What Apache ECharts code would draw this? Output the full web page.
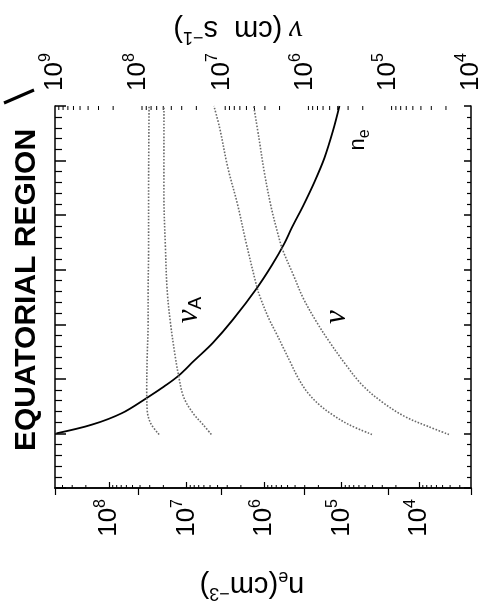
<!DOCTYPE html>
<html>
<head>
<meta charset="utf-8">
<script src="https://cdn.jsdelivr.net/npm/echarts@6/dist/echarts.min.js"></script>
<style>
  html, body { margin: 0; padding: 0; background: #ffffff; }
  #chart { width: 484px; height: 615px; }
</style>
</head>
<body>
<div id="chart"></div>
<script>
// Vertical coordinate (unlabelled axis) runs 0..7; all profiles start at 1.
const heightMin = 0;
const heightMax = 7;

// Electron density n_e (cm^-3), bottom axis
const neHeight  = [1.0, 1.16, 1.37, 1.66, 1.86, 2.06, 2.32, 2.66, 3.08, 3.68, 4.09, 4.46, 4.77, 5.19, 5.62, 6.05, 6.54, 7.0];
const neDensity = [4.8e8, 1.67e8, 6.9e7, 3.2e7, 1.96e7, 1.27e7, 8.2e6, 4.6e6, 2.55e6, 1.22e6, 7.9e5, 5.6e5, 4.4e5, 3.1e5, 2.23e5, 1.67e5, 1.30e5, 1.07e5];

// Alfven speeds v_A (cm s^-1), top axis
const vaFastHeight = [0.98, 1.19, 1.43, 1.8, 2.4, 3.03, 3.6, 4.37, 5.38, 7.0];
const vaFastSpeed  = [5.6e7, 7.1e7, 7.8e7, 7.9e7, 7.8e7, 7.6e7, 7.6e7, 7.5e7, 7.5e7, 7.4e7];
const vaSlowHeight = [0.98, 1.16, 1.37, 1.67, 2.06, 2.4, 3.03, 3.63, 4.42, 5.38, 7.0];
const vaSlowSpeed  = [1.32e7, 1.66e7, 2.19e7, 2.85e7, 3.27e7, 3.58e7, 4.1e7, 4.49e7, 4.71e7, 4.91e7, 4.9e7];

// Flow speeds v (cm s^-1), top axis
const vFastHeight = [0.98, 1.16, 1.34, 1.52, 1.74, 2.01, 2.32, 2.56, 2.81, 3.11, 3.48, 3.66, 4.52, 5.19, 5.87, 6.6, 7.0];
const vFastSpeed  = [1.55e5, 2.92e5, 4.6e5, 6.6e5, 9.1e5, 1.19e6, 1.5e6, 1.79e6, 2.15e6, 2.7e6, 3.39e6, 3.71e6, 5.09e6, 6.38e6, 8.37e6, 1.05e7, 1.23e7];
const vSlowHeight = [0.98, 1.13, 1.31, 1.58, 1.89, 2.26, 2.68, 3.05, 3.48, 3.91, 4.37, 4.70, 5.19, 5.80, 6.39, 7.0];
const vSlowSpeed  = [1.84e4, 3.31e4, 6.25e4, 1.18e5, 2.04e5, 3.2e5, 5.04e5, 7.23e5, 1.04e6, 1.37e6, 1.84e6, 2.13e6, 2.56e6, 3.06e6, 3.52e6, 4.09e6];

// Axis ranges (log axes drawn reversed: large values on the left)
const neAxisMin = 2.15e3, neAxisMax = 5.0e8;
const vAxisMin = 1e4, vAxisMax = 1e9;

const FONT = '"Liberation Sans", Arial, Helvetica, sans-serif';
const SERIF = '"Liberation Serif", "DejaVu Serif", serif';

function pairs(xs, ys) { return xs.map((x, i) => [x, ys[i]]); }

function decadeLabel(v) {
  const e = Math.log10(v);
  const r = Math.round(e);
  return Math.abs(e - r) < 1e-6 ? '{b|10}{s|' + r + '}' : '';
}

// log-spaced minor tick positions 2..9 x 10^n inside an axis range
function minorTickValues(lo, hi) {
  const out = [];
  for (let e = Math.floor(Math.log10(lo)); e <= Math.ceil(Math.log10(hi)); e++) {
    for (let k = 2; k <= 9; k++) {
      const v = k * Math.pow(10, e);
      if (v > lo * 1.0001 && v < hi * 0.9999) out.push(v);
    }
  }
  return out;
}

const labelRich = {
  b: { fontSize: 26, fontFamily: FONT, color: '#000', lineHeight: 34 },
  s: { fontSize: 16, fontFamily: FONT, color: '#000', lineHeight: 16, verticalAlign: 'top' }
};

const grid = { left: 55, right: 4, top: 106, bottom: 127 };

const chart = echarts.init(document.getElementById('chart'), null, { renderer: 'canvas' });

const dottedGrey = { color: '#6a6a6a', width: 1.6, type: 'dotted' };

chart.setOption({
  animation: false,
  backgroundColor: '#ffffff',
  grid: grid,
  xAxis: [
    {
      type: 'log', logBase: 10, inverse: true, position: 'bottom',
      min: neAxisMin, max: neAxisMax,
      axisLine: { show: true, lineStyle: { color: '#000', width: 1.5 } },
      axisTick: { show: true, inside: true, length: 6, lineStyle: { color: '#000', width: 1.2 } },
      minorTick: { show: false },
      splitLine: { show: false },
      axisLabel: { show: true, rotate: 90, margin: 11, formatter: decadeLabel, rich: labelRich, showMinLabel: false, showMaxLabel: false }
    },
    {
      type: 'log', logBase: 10, inverse: true, position: 'top',
      min: vAxisMin, max: vAxisMax,
      axisLine: { show: true, lineStyle: { color: '#000', width: 1.5 } },
      axisTick: { show: true, inside: true, length: 7, lineStyle: { color: '#000', width: 1.2 } },
      minorTick: { show: false },
      splitLine: { show: false },
      axisLabel: { show: true, rotate: 90, margin: 15, formatter: decadeLabel, rich: labelRich }
    }
  ],
  yAxis: [
    {
      type: 'value', position: 'left', min: heightMin, max: heightMax, interval: 1,
      axisLine: { show: true, lineStyle: { color: '#000', width: 1.5 } },
      axisTick: { show: true, inside: true, length: 11, lineStyle: { color: '#000', width: 1.5 } },
      minorTick: { show: true, splitNumber: 5, length: 7, lineStyle: { color: '#000', width: 1.2 } },
      splitLine: { show: false },
      axisLabel: { show: false }
    },
    {
      type: 'value', position: 'right', min: heightMin, max: heightMax, interval: 1,
      axisLine: { show: true, lineStyle: { color: '#000', width: 1.5 } },
      axisTick: { show: true, inside: true, length: 7, lineStyle: { color: '#000', width: 1.5 } },
      minorTick: { show: true, splitNumber: 5, length: 4, lineStyle: { color: '#000', width: 1.2 } },
      splitLine: { show: false },
      axisLabel: { show: false }
    }
  ],
  graphic: [
    {
      type: 'text', x: 27, y: 290, rotation: Math.PI / 2,
      style: { text: 'EQUATORIAL REGION', fill: '#000', font: 'bold 30px ' + FONT, align: 'center', verticalAlign: 'middle' }
    },
    {
      type: 'text', x: 252, y: 585, rotation: Math.PI,
      style: {
        text: '{a|n}{e|e}{a|(cm}{p|−3}{a|)}', align: 'center', verticalAlign: 'middle',
        rich: {
          a: { fontSize: 29, fontFamily: FONT, fill: '#000', lineHeight: 34 },
          e: { fontSize: 18, fontFamily: FONT, fill: '#000', lineHeight: 18, verticalAlign: 'bottom' },
          p: { fontSize: 18, fontFamily: FONT, fill: '#000', lineHeight: 18, verticalAlign: 'top' }
        }
      }
    },
    {
      type: 'text', x: 238, y: 29, rotation: Math.PI,
      style: {
        text: '{g|ν}  {a|(cm  s}{p|−1}{a|)}', align: 'center', verticalAlign: 'middle',
        rich: {
          g: { fontSize: 31, fontFamily: SERIF, fontStyle: 'italic', fill: '#000', lineHeight: 34 },
          a: { fontSize: 29, fontFamily: FONT, fill: '#000', lineHeight: 34 },
          p: { fontSize: 18, fontFamily: FONT, fill: '#000', lineHeight: 18, verticalAlign: 'top' }
        }
      }
    },
    {
      type: 'text', x: 358, y: 140, rotation: Math.PI / 2,
      style: {
        text: '{n|n}{e|e}', align: 'center', verticalAlign: 'middle',
        rich: {
          n: { fontSize: 22, fontFamily: FONT, fill: '#000', lineHeight: 30 },
          e: { fontSize: 16, fontFamily: FONT, fill: '#000', lineHeight: 16, verticalAlign: 'bottom' }
        }
      }
    },
    {
      type: 'text', x: 189, y: 310, rotation: Math.PI / 2,
      style: {
        text: '{g|ν}{s|A}', align: 'center', verticalAlign: 'middle',
        rich: {
          g: { fontSize: 31, fontFamily: SERIF, fontStyle: 'italic', fill: '#000', lineHeight: 32 },
          s: { fontSize: 19, fontFamily: FONT, fill: '#000', lineHeight: 19, verticalAlign: 'bottom' }
        }
      }
    },
    {
      type: 'text', x: 337, y: 317, rotation: Math.PI / 2,
      style: { text: 'ν', fill: '#000', font: 'italic 31px ' + SERIF, align: 'center', verticalAlign: 'middle' }
    },
    {
      type: 'line', shape: { x1: 4, y1: 103, x2: 34, y2: 90 },
      style: { stroke: '#000', lineWidth: 3 }
    }
  ],
  series: [
    {
      name: 'n_e', type: 'line', xAxisIndex: 0, yAxisIndex: 0,
      data: pairs(neDensity, neHeight), showSymbol: false, smooth: 0.35,
      lineStyle: { color: '#000', width: 1.8 }, clip: true
    },
    {
      name: 'v_A fast', type: 'line', xAxisIndex: 1, yAxisIndex: 0,
      data: pairs(vaFastSpeed, vaFastHeight), showSymbol: false, smooth: 0.35,
      lineStyle: dottedGrey
    },
    {
      name: 'v_A slow', type: 'line', xAxisIndex: 1, yAxisIndex: 0,
      data: pairs(vaSlowSpeed, vaSlowHeight), showSymbol: false, smooth: 0.35,
      lineStyle: dottedGrey
    },
    {
      name: 'v fast', type: 'line', xAxisIndex: 1, yAxisIndex: 0,
      data: pairs(vFastSpeed, vFastHeight), showSymbol: false, smooth: 0.35,
      lineStyle: dottedGrey
    },
    {
      name: 'v slow', type: 'line', xAxisIndex: 1, yAxisIndex: 0,
      data: pairs(vSlowSpeed, vSlowHeight), showSymbol: false, smooth: 0.35,
      lineStyle: dottedGrey
    },
    {
      // log minor ticks on the bottom (density) axis
      type: 'custom', xAxisIndex: 0, yAxisIndex: 0, silent: true,
      data: minorTickValues(neAxisMin, neAxisMax).map(v => [v, heightMin]),
      encode: { x: 0, y: 1 },
      renderItem: function (params, api) {
        const p = api.coord([api.value(0), heightMin]);
        return { type: 'line', shape: { x1: p[0], y1: p[1], x2: p[0], y2: p[1] - 3 }, style: { stroke: '#000', lineWidth: 1 } };
      }
    },
    {
      // log minor ticks on the top (speed) axis
      type: 'custom', xAxisIndex: 1, yAxisIndex: 0, silent: true,
      data: minorTickValues(vAxisMin, vAxisMax).map(v => [v, heightMax]),
      encode: { x: 0, y: 1 },
      renderItem: function (params, api) {
        const p = api.coord([api.value(0), heightMax]);
        return { type: 'line', shape: { x1: p[0], y1: p[1], x2: p[0], y2: p[1] + 4 }, style: { stroke: '#000', lineWidth: 1 } };
      }
    }
  ]
});
</script>
</body>
</html>
